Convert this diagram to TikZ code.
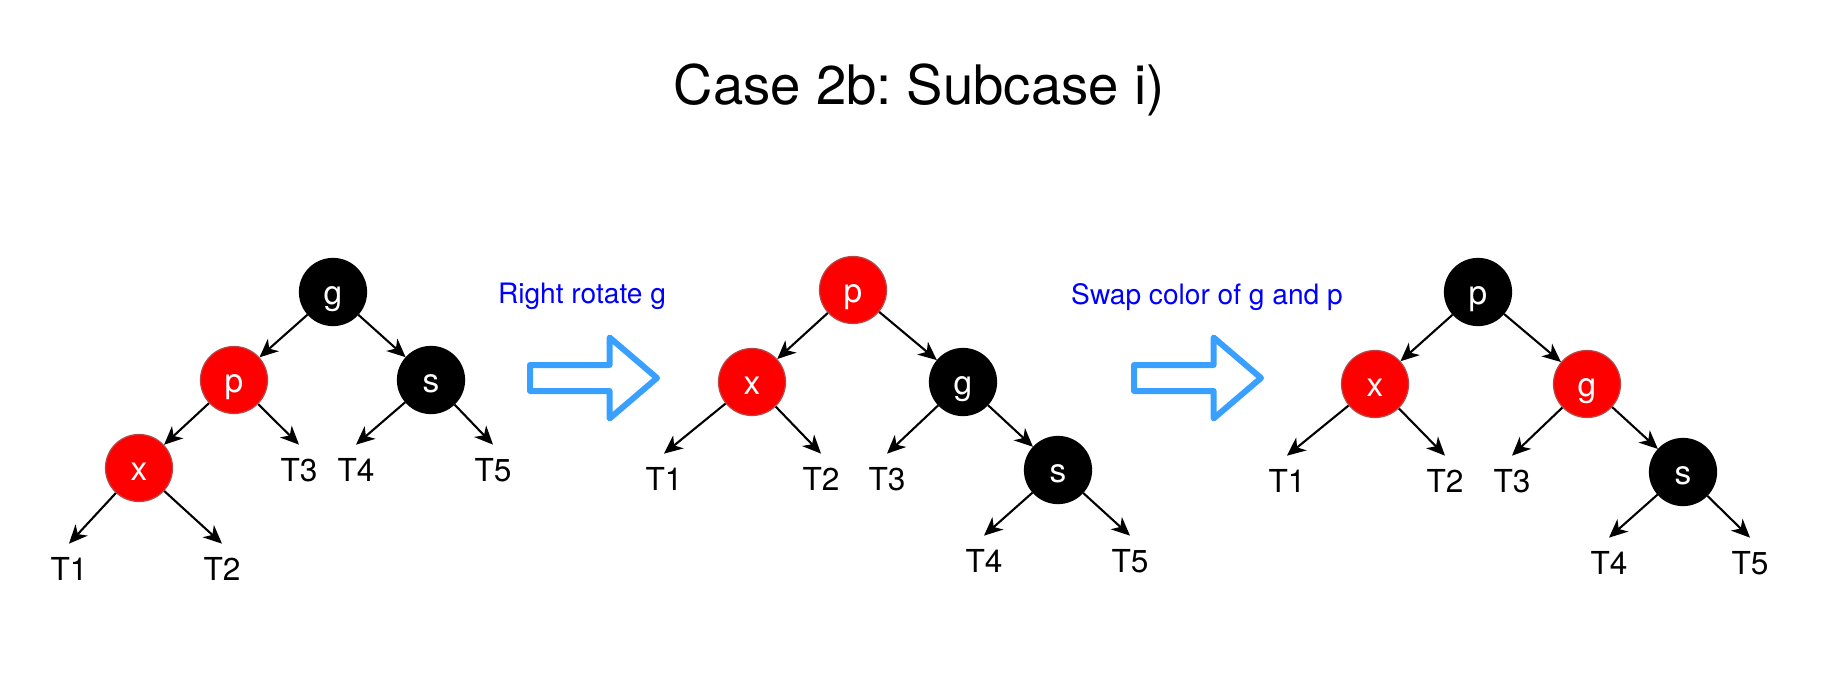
\documentclass[tikz,border=0pt]{standalone}
\usepackage{fontspec}
\setmainfont{TeX Gyre Heros}
\usepackage{tikz}
\usetikzlibrary{arrows.meta,shapes.arrows}

\definecolor{nodered}{RGB}{255,0,0}
\definecolor{rededge}{RGB}{185,70,70}
\definecolor{arrowblue}{RGB}{58,160,255}
\definecolor{textblue}{RGB}{0,0,255}

\begin{document}
\frenchspacing
\begin{tikzpicture}[
  x=0.2mm, y=-0.2mm,
  >={Stealth[length=3.7mm, width=3.3mm, inset=1.1mm]},
  rb/.style={circle, minimum size=13.4mm, inner sep=0pt, text=white,
             font=\fontsize{19pt}{19pt}\selectfont, text height=5.4mm, text depth=0.4mm},
  rednode/.style={rb, fill=nodered, draw=rededge, line width=0.25mm},
  blknode/.style={rb, fill=black, draw=black, line width=0.25mm},
  leaf/.style={inner sep=0pt, minimum height=10mm, font=\fontsize{18pt}{18pt}\selectfont},
  link/.style={->, line width=0.42mm},
  step label/.style={anchor=base, text=textblue, font=\fontsize{16pt}{16pt}\selectfont},
  bigarrow/.style={single arrow, draw=arrowblue, line width=1.2mm, line join=round,
                   inner sep=2mm, minimum height=25.4mm, minimum width=15mm,
                   single arrow head extend=5.5mm, single arrow tip angle=81}
]
\useasboundingbox (0,0) rectangle (1838,692);

\node[anchor=base, font=\fontsize{31pt}{31pt}\selectfont] (title) at (919,104) {Case 2b: Subcase i)};

% ---------- tree (a): before rotation ----------
\node[blknode] (ga) at (333,292) {g};
\node[rednode] (pa) at (234,380) {p};
\node[blknode] (sa) at (431,380) {s};
\node[rednode] (xa) at (139,468) {x};
\node[leaf] (ta1) at (69,569) {T1};
\node[leaf] (ta2) at (222,569) {T2};
\node[leaf] (ta3) at (299,470) {T3};
\node[leaf] (ta4) at (356,470) {T4};
\node[leaf] (ta5) at (493,470) {T5};

\draw[link] (ga)--(pa);
\draw[link] (ga)--(sa);
\draw[link] (pa)--(xa);
\draw[link] (pa)--(ta3.north);
\draw[link] (sa)--(ta4.north);
\draw[link] (sa)--(ta5.north);
\draw[link] (xa)--(ta1.north);
\draw[link] (xa)--(ta2.north);

% ---------- step 1 ----------
\node[step label] (rot) at (582,303) {Right rotate g};
\node[bigarrow, anchor=tail] (rotarr) at (527,378) {};

% ---------- tree (b): after rotation ----------
\node[rednode] (pb) at (853,290) {p};
\node[rednode] (xb) at (752,382) {x};
\node[blknode] (gb) at (963,382) {g};
\node[blknode] (sb) at (1058,470) {s};
\node[leaf] (tb1) at (664,479) {T1};
\node[leaf] (tb2) at (821,479) {T2};
\node[leaf] (tb3) at (887,479) {T3};
\node[leaf] (tb4) at (984,561) {T4};
\node[leaf] (tb5) at (1130,561) {T5};

\draw[link] (pb)--(xb);
\draw[link] (pb)--(gb);
\draw[link] (xb)--(tb1.north);
\draw[link] (xb)--(tb2.north);
\draw[link] (gb)--(tb3.north);
\draw[link] (gb)--(sb);
\draw[link] (sb)--(tb4.north);
\draw[link] (sb)--(tb5.north);

% ---------- step 2 ----------
\node[step label] (swap) at (1207,304) {Swap color of g and p};
\node[bigarrow, anchor=tail] (swaparr) at (1131,378) {};

% ---------- tree (c): after recolouring ----------
\node[blknode] (pc) at (1478,292) {p};
\node[rednode] (xc) at (1375,384) {x};
\node[rednode] (gc) at (1587,384) {g};
\node[blknode] (sc) at (1683,472) {s};
\node[leaf] (tc1) at (1287,481) {T1};
\node[leaf] (tc2) at (1445,481) {T2};
\node[leaf] (tc3) at (1512,481) {T3};
\node[leaf] (tc4) at (1609,563) {T4};
\node[leaf] (tc5) at (1750,563) {T5};

\draw[link] (pc)--(xc);
\draw[link] (pc)--(gc);
\draw[link] (xc)--(tc1.north);
\draw[link] (xc)--(tc2.north);
\draw[link] (gc)--(tc3.north);
\draw[link] (gc)--(sc);
\draw[link] (sc)--(tc4.north);
\draw[link] (sc)--(tc5.north);

\end{tikzpicture}
\end{document}
